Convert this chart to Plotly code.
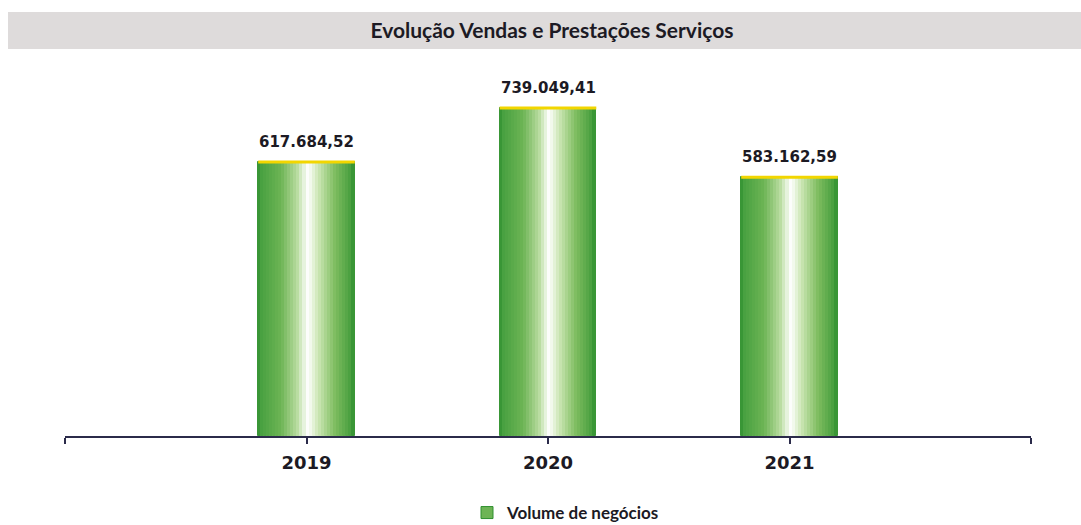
import plotly.graph_objects as go

# Sales and services turnover per year
years = ["2019", "2020", "2021"]
values = [617684.52, 739049.41, 583162.59]
labels = ["617.684,52", "739.049,41", "583.162,59"]
series_name = "Volume de negócios"
title_text = "Evolução Vendas e Prestações Serviços"

positions = list(range(len(years)))
BAR_W = 0.40
N_SLICES = 32

# horizontal "cylinder" shading for the bars
stops = [
    (0.00, (47, 143, 47)),
    (0.04, (72, 160, 64)),
    (0.25, (109, 180, 85)),
    (0.42, (185, 220, 160)),
    (0.52, (255, 255, 255)),
    (0.62, (207, 232, 184)),
    (0.80, (127, 189, 96)),
    (0.96, (74, 160, 64)),
    (1.00, (47, 143, 47)),
]


def shade(t):
    for (t0, c0), (t1, c1) in zip(stops, stops[1:]):
        if t0 <= t <= t1:
            f = (t - t0) / (t1 - t0) if t1 > t0 else 0
            r, g, b = (round(a + (b_ - a) * f) for a, b_ in zip(c0, c1))
            return f"rgb({r},{g},{b})"
    return "rgb(47,143,47)"


fig = go.Figure()

slice_w = BAR_W / N_SLICES
for k in range(N_SLICES):
    t = (k + 0.5) / N_SLICES
    col = shade(t)
    fig.add_trace(go.Bar(
        x=[p - BAR_W / 2 + (k + 0.5) * slice_w for p in positions],
        y=values,
        width=slice_w,
        marker=dict(color=col, line=dict(color=col, width=1)),
        showlegend=False,
        hoverinfo="skip",
    ))

# yellow rim on top of each bar
for p, v in zip(positions, values):
    fig.add_trace(go.Scatter(
        x=[p - BAR_W / 2, p + BAR_W / 2], y=[v, v],
        mode="lines", line=dict(color="#f2d600", width=3),
        showlegend=False, hoverinfo="skip",
    ))

# legend entry
fig.add_trace(go.Bar(
    x=[None], y=[None], name=f"<b>{series_name}</b>",
    marker=dict(color="#6db455", line=dict(color="#2f8f2f", width=1)),
    showlegend=True,
))

for p, v, lab in zip(positions, values, labels):
    fig.add_annotation(
        x=p, y=v, text=f"<b>{lab}</b>", showarrow=False,
        yanchor="bottom", yshift=9,
        font=dict(family="DejaVu Sans", size=15, color="#1c1a24"),
    )

PLOT_TOP, PLOT_BOTTOM, PLOT_LEFT, PLOT_RIGHT = 81, 436, 65, 1031
ph = PLOT_BOTTOM - PLOT_TOP
pw = PLOT_RIGHT - PLOT_LEFT

# grey title band
fig.add_shape(
    type="rect", xref="paper", yref="paper",
    x0=(8 - PLOT_LEFT) / pw, x1=(1081 - PLOT_LEFT) / pw,
    y0=(PLOT_BOTTOM - 49) / ph, y1=(PLOT_BOTTOM - 12) / ph,
    fillcolor="#dedbdb", line=dict(width=0), layer="below",
)

fig.update_layout(
    width=1081, height=525,
    margin=dict(l=PLOT_LEFT, r=1081 - PLOT_RIGHT, t=PLOT_TOP, b=525 - PLOT_BOTTOM,
                autoexpand=False),
    paper_bgcolor="white", plot_bgcolor="white",
    barmode="overlay", bargap=0,
    title=dict(
        text=f"<b>{title_text}</b>", x=552 / 1081, xanchor="center", xref="container",
        y=1 - 31 / 525, yanchor="middle",
        font=dict(family="Lato", size=21, color="#1c1a24", weight=900),
    ),
    xaxis=dict(
        range=[-1, 3], tickmode="array",
        tickvals=[-1] + positions + [3],
        ticktext=[""] + [f"<b>{y}</b>" for y in years] + [""],
        showline=True, linecolor="#2b2b4a", linewidth=2,
        ticks="outside", ticklen=6, tickcolor="#2b2b4a", tickwidth=1.5,
        showgrid=False, zeroline=False, ticklabelstandoff=3,
        tickfont=dict(family="DejaVu Sans", size=18, color="#1c1a24"),
    ),
    yaxis=dict(range=[0, 800000], visible=False, showgrid=False),
    legend=dict(
        orientation="h", x=0.5 + 18 / pw, xanchor="center",
        y=(PLOT_BOTTOM - 513) / ph, yanchor="middle",
        font=dict(family="Lato", size=17, color="#1c1a24"),
        itemwidth=30,
    ),
    showlegend=True,
)

fig.write_html("out.html")
